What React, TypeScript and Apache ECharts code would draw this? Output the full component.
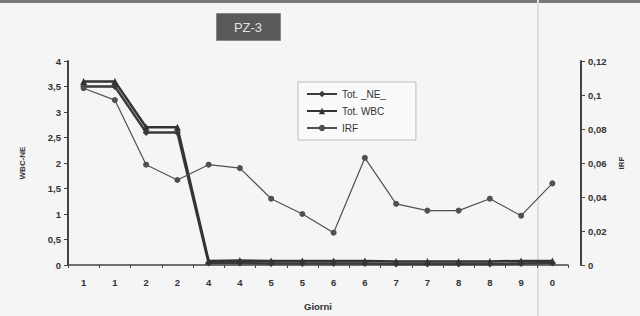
import React, { useEffect, useRef } from "react";
import * as echarts from "echarts";

const categories = ["1", "1", "2", "2", "4", "4", "5", "5", "6", "6", "7", "7", "8", "8", "9", "0"];
const totNE = [3.5, 3.5, 2.6, 2.6, 0.04, 0.04, 0.03, 0.03, 0.03, 0.03, 0.02, 0.02, 0.02, 0.02, 0.03, 0.04];
const totWBC = [3.6, 3.6, 2.7, 2.7, 0.08, 0.09, 0.08, 0.08, 0.08, 0.08, 0.07, 0.07, 0.07, 0.07, 0.08, 0.08];
const irf = [0.104, 0.097, 0.059, 0.05, 0.059, 0.057, 0.039, 0.03, 0.019, 0.063, 0.036, 0.032, 0.032, 0.039, 0.029, 0.048];

const fmt = (v: number) => String(Math.round(v * 100) / 100).replace(".", ",");

export default function App() {
  const ref = useRef<HTMLDivElement>(null);
  useEffect(() => {
    const chart = echarts.init(ref.current!, undefined, { renderer: "svg" });
    const font = "Liberation Sans";
    const lbl = { color: "#333", fontFamily: font, fontSize: 9.5, fontWeight: "bold" as const };
    chart.setOption({
      animation: false,
      backgroundColor: "#f5f5f5",
      grid: { left: 68, right: 72, top: 61, bottom: 50 },
      graphic: [
        { type: "rect", left: 0, top: 0, shape: { width: 640, height: 3 }, style: { fill: "#7a7a7a" } },
        { type: "rect", left: 537, top: 0, shape: { width: 2, height: 316 }, style: { fill: "#dedede" } },
        {
          type: "rect",
          left: 216,
          top: 13,
          shape: { width: 64, height: 27 },
          style: { fill: "#595959", stroke: "#888", lineWidth: 1 },
        },
        {
          type: "text",
          x: 248,
          y: 27,
          style: {
            text: "PZ-3",
            fill: "#e0e0e0",
            fontFamily: font,
            fontSize: 13,
            align: "center",
            verticalAlign: "middle",
          },
        },
      ],
      legend: {
        orient: "vertical",
        left: 298,
        top: 82,
        width: 132,
        padding: [7, 30, 7, 8],
        itemGap: 7,
        itemWidth: 30,
        itemHeight: 8,
        backgroundColor: "#fafafa",
        borderColor: "#bbb",
        borderWidth: 1,
        textStyle: { color: "#333", fontFamily: font, fontSize: 10 },
        data: ["Tot. _NE_", "Tot. WBC", "IRF"],
      },
      xAxis: {
        type: "category",
        data: categories,
        boundaryGap: true,
        name: "Giorni",
        nameLocation: "middle",
        nameGap: 36,
        nameTextStyle: lbl,
        axisLine: { lineStyle: { color: "#444", width: 1.5 } },
        axisTick: { show: true, length: 3, lineStyle: { color: "#444" } },
        axisLabel: { ...lbl, margin: 12 },
        splitLine: { show: false },
      },
      yAxis: [
        {
          type: "value",
          min: 0,
          max: 4,
          interval: 0.5,
          name: "WBC-NE",
          nameLocation: "middle",
          nameGap: 42,
          nameTextStyle: { ...lbl, fontSize: 8 },
          axisLine: { show: true, lineStyle: { color: "#444", width: 2 } },
          axisTick: { show: true, length: 4, lineStyle: { color: "#444" } },
          axisLabel: { ...lbl, formatter: fmt, margin: 7 },
          splitLine: { show: false },
        },
        {
          type: "value",
          min: 0,
          max: 0.12,
          interval: 0.02,
          position: "right",
          offset: 13,
          name: "IRF",
          nameLocation: "middle",
          nameGap: 36,
          nameTextStyle: { ...lbl, fontSize: 8 },
          axisLine: { show: true, lineStyle: { color: "#444", width: 2 } },
          axisTick: { show: true, length: 4, lineStyle: { color: "#444" } },
          axisLabel: { ...lbl, formatter: fmt, margin: 7 },
          splitLine: { show: false },
        },
      ],
      series: [
        {
          name: "Tot. _NE_",
          type: "line",
          data: totNE,
          yAxisIndex: 0,
          symbol: "diamond",
          symbolSize: 7,
          color: "#3a3a3a",
          lineStyle: { width: 2.5, color: "#3a3a3a" },
          itemStyle: { color: "#3a3a3a" },
        },
        {
          name: "Tot. WBC",
          type: "line",
          data: totWBC,
          yAxisIndex: 0,
          symbol: "triangle",
          symbolSize: 7,
          color: "#333",
          lineStyle: { width: 2.5, color: "#333" },
          itemStyle: { color: "#333" },
        },
        {
          name: "IRF",
          type: "line",
          data: irf,
          yAxisIndex: 1,
          symbol: "circle",
          symbolSize: 6,
          color: "#505050",
          lineStyle: { width: 1.2, color: "#505050" },
          itemStyle: { color: "#505050" },
        },
      ],
    });
    return () => chart.dispose();
  }, []);
  return <div ref={ref} style={{ position: "absolute", left: 0, top: 0, width: 640, height: 316 }} />;
}
